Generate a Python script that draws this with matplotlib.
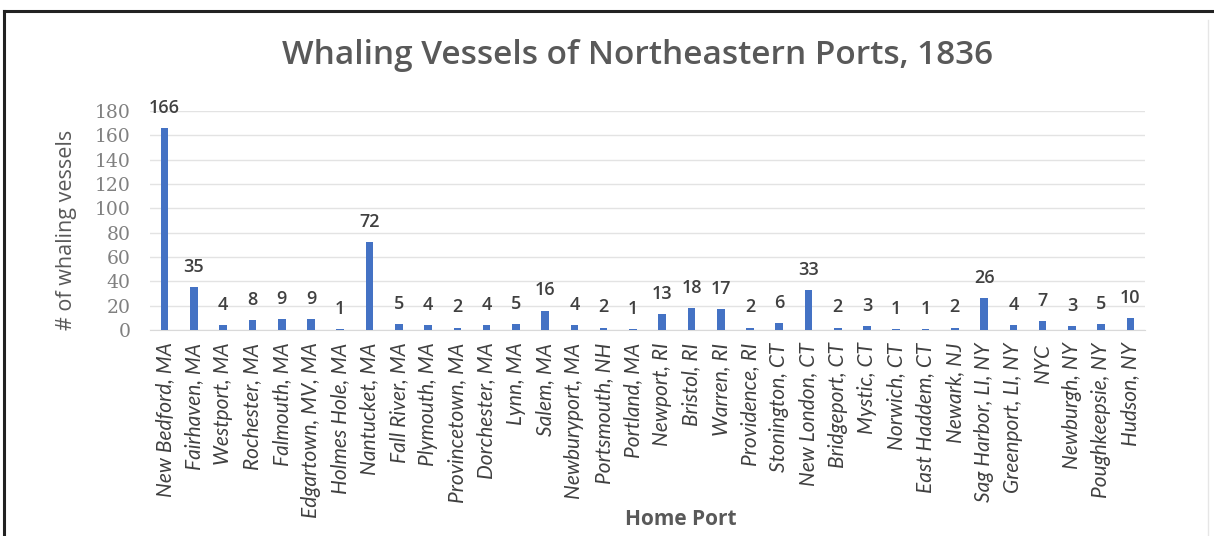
import matplotlib.pyplot as plt
from matplotlib.lines import Line2D

# data
ports = ["New Bedford, MA", "Fairhaven, MA", "Westport, MA", "Rochester, MA",
         "Falmouth, MA", "Edgartown, MV, MA", "Holmes Hole, MA", "Nantucket, MA",
         "Fall River, MA", "Plymouth, MA", "Provincetown, MA", "Dorchester, MA",
         "Lynn, MA", "Salem, MA", "Newburyport, MA", "Portsmouth, NH",
         "Portland, MA", "Newport, RI", "Bristol, RI", "Warren, RI",
         "Providence, RI", "Stonington, CT", "New London, CT", "Bridgeport, CT",
         "Mystic, CT", "Norwich, CT", "East Haddem, CT", "Newark, NJ",
         "Sag Harbor, LI, NY", "Greenport, LI, NY", "NYC", "Newburgh, NY",
         "Poughkeepsie, NY", "Hudson, NY"]
vessels = [166, 35, 4, 8, 9, 9, 1, 72, 5, 4, 2, 4, 5, 16, 4, 2, 1, 13, 18, 17,
           2, 6, 33, 2, 3, 1, 1, 2, 26, 4, 7, 3, 5, 10]
yticks = [0, 20, 40, 60, 80, 100, 120, 140, 160, 180]

bar_color = "#4472C4"
txt_dark = "#404040"
txt_grey = "#595959"

fig = plt.figure(figsize=(12.14, 5.36), dpi=100)
ax = fig.add_axes([0.1236, 0.3843, 0.8196, 0.4086])

x = range(len(ports))
ax.bar(x, vessels, width=0.26, color=bar_color, zorder=3)

# value labels above bars
for i, v in enumerate(vessels):
    ax.annotate(str(v), (i, v), xytext=(0, 8), textcoords="offset points",
                ha="center", va="bottom", fontsize=13, fontweight="semibold",
                color=txt_dark, family="Open Sans")

ax.set_xlim(-0.5, len(ports) - 0.5)
ax.set_ylim(0, 180)
ax.set_yticks(yticks)
ax.set_yticklabels([str(t) for t in yticks], family="DejaVu Serif",
                   fontsize=13.5, color="#808080")
ax.set_xticks(list(x))
ax.set_xticklabels(ports, rotation=90, ha="center", va="top", style="italic",
                   fontsize=15, color=txt_dark, family="Lato")
ax.tick_params(length=0, pad=9)
ax.tick_params(axis="y", pad=14)

ax.grid(axis="y", color="#e3e3e3", linewidth=1, zorder=0)
for s in ["top", "right", "left"]:
    ax.spines[s].set_visible(False)
ax.spines["bottom"].set_color("#d9d9d9")

ax.set_ylabel("# of whaling vessels", fontsize=15.5, color=txt_grey,
              family="Open Sans")
ax.yaxis.set_label_coords(-0.073, 0.457)
ax.set_xlabel("Home Port", fontsize=15, fontweight="bold", color=txt_grey,
              family="Open Sans")
ax.xaxis.set_label_coords(0.533, -0.815)

fig.text(0.525, 0.897, "Whaling Vessels of Northeastern Ports, 1836",
         ha="center", va="center", fontsize=24, fontweight="semibold",
         color=txt_grey, family="Open Sans")

# frame lines of the screenshot
fig.add_artist(Line2D([4 / 1214, 4 / 1214], [0, 1 - 11 / 536],
                      transform=fig.transFigure, color="#222222", lw=2.2))
fig.add_artist(Line2D([4 / 1214, 1], [1 - 11 / 536, 1 - 11 / 536],
                      transform=fig.transFigure, color="#222222", lw=2.2))
fig.add_artist(Line2D([1208 / 1214, 1208 / 1214], [0, 1 - 20 / 536],
                      transform=fig.transFigure, color="#e6e6e6", lw=1))

fig.savefig("out.png", dpi=100)
